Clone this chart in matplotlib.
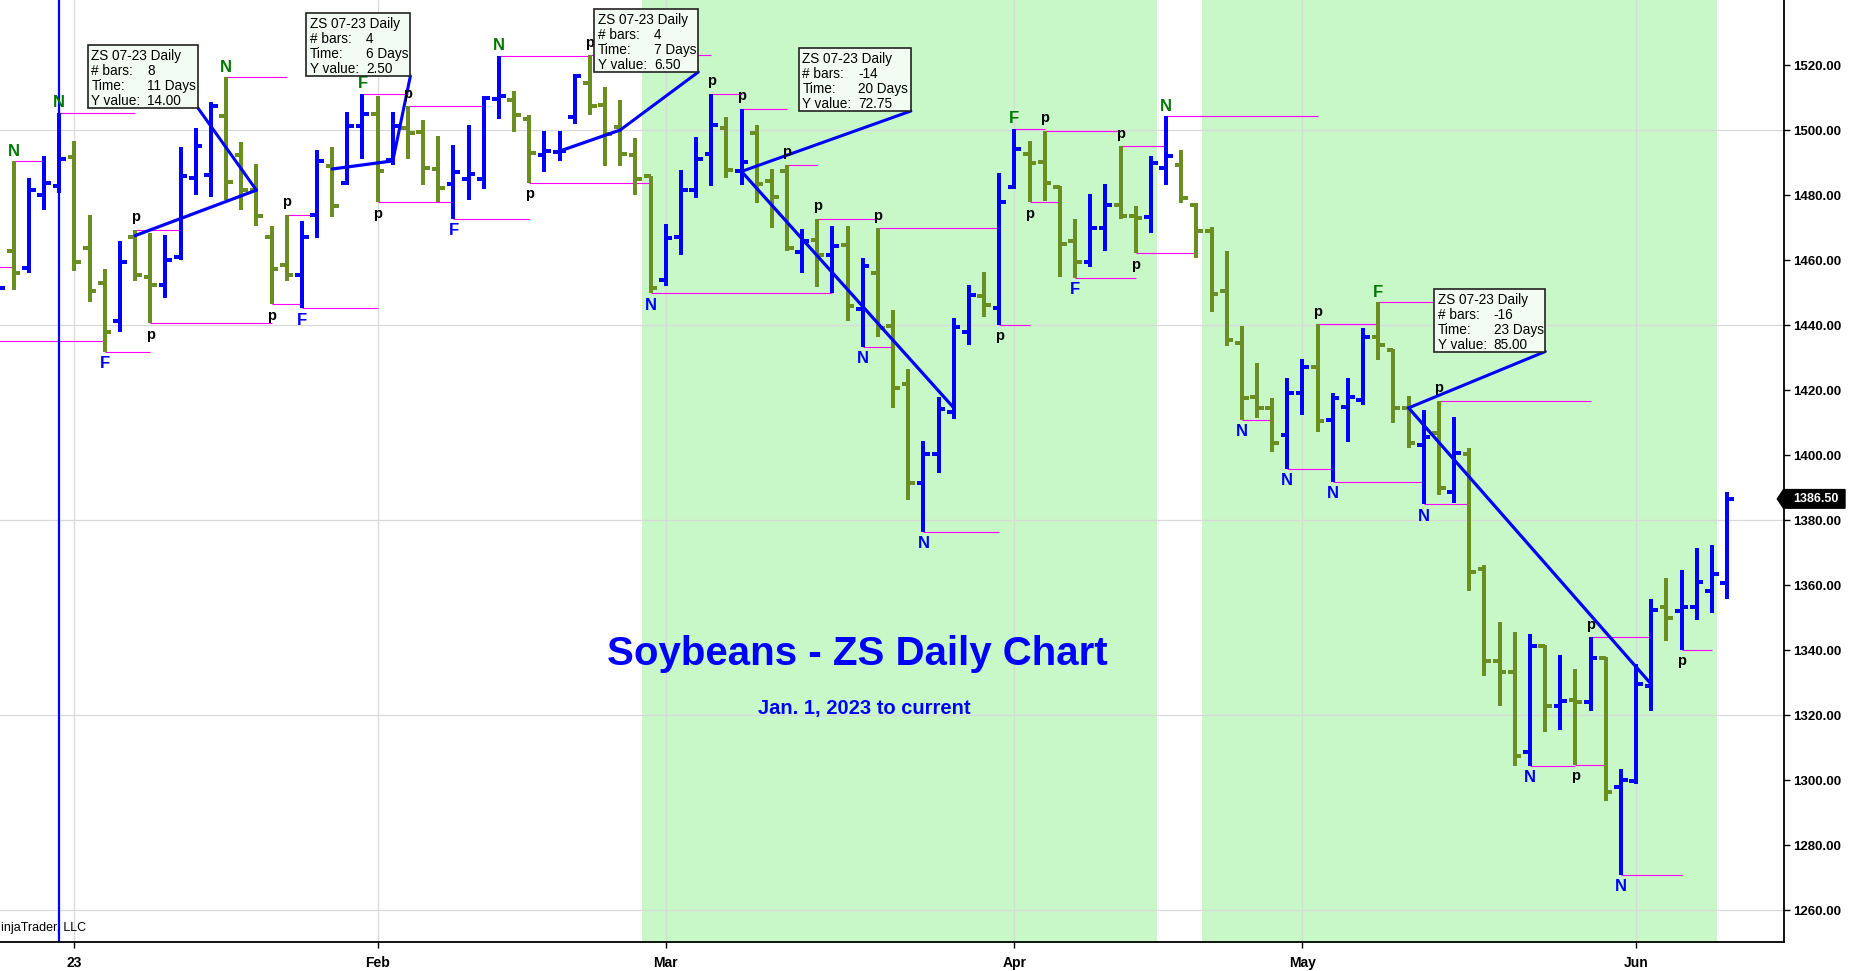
import matplotlib
matplotlib.use('Agg')
import matplotlib.pyplot as plt
import matplotlib.transforms as mtransforms
from matplotlib.collections import LineCollection
from matplotlib.patches import Rectangle, Polygon

plt.rcParams['font.family'] = ['Liberation Sans', 'DejaVu Sans']

# daily OHLC bars, bar index 0 = first session of 2023
first_bar = -5
opens = [1440.0, 1462.9, 1457.5, 1480.1, 1482.7,
         1491.6, 1463.7, 1452.9, 1441.3, 1467.2, 1454.9, 1452.2, 1460.9, 1485.2, 1486.1,
         1504.2, 1492.2, 1481.6, 1467.2, 1458.5, 1455.4, 1473.7, 1489.0, 1483.7, 1501.1,
         1504.8, 1490.9, 1500.5, 1499.3, 1488.1, 1483.4, 1485.0, 1485.0, 1509.5, 1509.1,
         1503.5, 1492.4, 1493.3, 1503.9, 1514.5, 1507.8, 1501.0, 1492.2, 1485.7, 1453.9,
         1467.0, 1481.6, 1492.7, 1500.6, 1487.3, 1499.0, 1484.4, 1487.3, 1462.6, 1466.2,
         1461.6, 1464.7, 1445.0, 1456.0, 1439.7, 1421.7, 1391.3, 1400.3, 1413.3, 1437.7,
         1448.9, 1445.3, 1482.4, 1492.6, 1490.2, 1482.6, 1465.7, 1459.5, 1470.0, 1476.8,
         1473.4, 1473.1, 1488.3, 1489.3, 1477.0, 1468.8, 1450.5, 1434.6, 1417.9, 1414.6,
         1406.2, 1419.0, 1427.0, 1410.8, 1414.8, 1416.9, 1436.4, 1432.3, 1414.4, 1403.1,
         1406.7, 1388.7, 1400.2, 1364.9, 1336.5, 1333.3, 1308.5, 1341.3, 1322.7, 1324.5,
         1323.9, 1337.5, 1297.9, 1299.8, 1329.0, 1353.3, 1352.1, 1353.3, 1358.1, 1360.5]
highs = [1456.5, 1490.4, 1485.2, 1491.9, 1505.3,
         1496.5, 1473.9, 1457.3, 1465.7, 1469.3, 1468.3, 1467.6, 1494.7, 1500.6, 1508.6,
         1516.3, 1496.3, 1489.5, 1470.6, 1473.9, 1472.1, 1493.8, 1494.8, 1505.6, 1511.2,
         1510.4, 1505.6, 1507.3, 1503.0, 1498.1, 1495.5, 1501.5, 1510.6, 1522.9, 1512.1,
         1504.5, 1499.8, 1499.8, 1517.3, 1523.0, 1513.2, 1509.1, 1497.6, 1486.0, 1471.1,
         1487.6, 1497.8, 1511.2, 1504.0, 1506.6, 1501.5, 1488.1, 1489.3, 1469.6, 1472.7,
         1470.6, 1470.6, 1460.6, 1469.8, 1444.5, 1426.4, 1404.3, 1418.0, 1442.1, 1452.3,
         1456.3, 1486.8, 1500.4, 1496.5, 1499.8, 1482.9, 1472.6, 1480.3, 1483.4, 1495.0,
         1476.5, 1491.9, 1504.2, 1494.0, 1477.5, 1470.3, 1462.9, 1439.8, 1428.4, 1417.4,
         1423.6, 1429.4, 1440.2, 1419.0, 1423.6, 1439.0, 1447.0, 1432.6, 1418.2, 1413.8,
         1416.7, 1411.6, 1402.3, 1366.3, 1348.5, 1345.4, 1344.9, 1341.6, 1338.5, 1334.2,
         1343.9, 1337.7, 1303.4, 1335.7, 1355.7, 1362.1, 1364.6, 1371.4, 1372.3, 1388.7]
lows = [1437.0, 1450.8, 1456.0, 1475.5, 1480.6,
        1456.5, 1447.2, 1431.8, 1438.0, 1453.4, 1440.5, 1448.2, 1459.9, 1479.9, 1479.3,
        1478.6, 1475.5, 1470.5, 1446.4, 1453.6, 1445.2, 1466.7, 1473.1, 1483.0, 1491.2,
        1477.8, 1489.3, 1491.2, 1483.2, 1477.8, 1472.7, 1478.6, 1482.0, 1503.5, 1499.3,
        1483.7, 1487.1, 1490.6, 1501.7, 1504.7, 1488.8, 1488.8, 1480.1, 1449.8, 1452.1,
        1461.4, 1479.1, 1482.7, 1485.2, 1483.0, 1477.5, 1469.8, 1462.8, 1456.0, 1451.8,
        1449.8, 1441.3, 1433.3, 1436.2, 1414.4, 1386.2, 1376.4, 1394.4, 1411.0, 1433.8,
        1442.6, 1440.0, 1481.9, 1477.8, 1478.3, 1454.9, 1454.6, 1458.0, 1462.8, 1472.7,
        1462.1, 1468.3, 1483.0, 1477.5, 1460.6, 1444.1, 1433.5, 1410.8, 1411.3, 1401.0,
        1395.7, 1412.3, 1407.2, 1391.8, 1404.1, 1415.4, 1429.2, 1409.7, 1402.1, 1384.9,
        1387.6, 1385.3, 1358.3, 1332.1, 1322.7, 1304.2, 1304.4, 1314.9, 1315.5, 1304.7,
        1321.3, 1293.6, 1270.8, 1298.8, 1321.3, 1342.9, 1340.1, 1349.3, 1351.4, 1355.7]
closes = [1451.3, 1456.0, 1481.4, 1483.7, 1491.2,
          1459.5, 1450.5, 1438.0, 1459.5, 1455.4, 1452.2, 1460.1, 1485.7, 1495.0, 1507.3,
          1484.0, 1481.6, 1473.4, 1457.3, 1455.4, 1467.0, 1490.6, 1476.7, 1501.1, 1505.0,
          1487.5, 1501.1, 1499.0, 1488.3, 1482.1, 1487.1, 1486.5, 1509.9, 1510.5, 1504.7,
          1493.0, 1493.6, 1493.6, 1516.6, 1507.3, 1498.8, 1492.5, 1484.9, 1451.3, 1466.7,
          1481.6, 1491.2, 1501.5, 1487.8, 1490.2, 1483.4, 1479.4, 1463.7, 1465.9, 1461.6,
          1464.2, 1446.0, 1458.3, 1439.2, 1420.5, 1391.3, 1400.3, 1414.1, 1439.5, 1449.2,
          1446.3, 1478.0, 1494.3, 1490.0, 1483.7, 1464.9, 1459.5, 1469.8, 1476.8, 1473.4,
          1472.9, 1489.9, 1491.9, 1479.1, 1468.8, 1449.5, 1435.5, 1417.4, 1414.6, 1403.6,
          1419.0, 1427.2, 1410.6, 1417.4, 1417.7, 1436.4, 1433.8, 1414.4, 1403.6, 1405.6,
          1389.7, 1400.6, 1364.1, 1336.7, 1333.3, 1307.3, 1341.3, 1322.7, 1324.4, 1324.0,
          1337.4, 1296.4, 1300.1, 1329.5, 1352.4, 1349.8, 1353.3, 1360.8, 1363.4, 1386.5]

month_ticks = [0, 20, 39, 62, 81, 103]
month_labels = ['23', 'Feb', 'Mar', 'Apr', 'May', 'Jun']
session_line = -1
shade_spans = [(37.43, 71.42), (74.35, 108.32)]

# swing markers: bar, side, label, bar where the level line stops
piv_bar = [-4, -1, 2, 4, 5, 10, 13, 14, 15, 19, 20, 22, 25, 28, 30, 34, 38, 42, 44,
           47, 49, 52, 53, 56, 61, 62, 63, 64, 66, 69, 70, 72, 77, 80, 82, 83, 86,
           89, 90, 96, 99, 100, 102, 106]
piv_side = ['hi', 'hi', 'lo', 'hi', 'lo', 'hi', 'lo', 'hi', 'lo', 'hi', 'lo', 'hi',
            'lo', 'hi', 'lo', 'hi', 'lo', 'hi', 'hi', 'hi', 'hi', 'lo', 'hi', 'lo',
            'lo', 'hi', 'lo', 'hi', 'lo', 'hi', 'lo', 'hi', 'lo', 'lo', 'hi', 'lo',
            'hi', 'lo', 'hi', 'lo', 'lo', 'hi', 'lo', 'lo']
piv_text = ['N', 'N', 'F', 'p', 'p', 'N', 'p', 'p', 'F', 'F', 'p', 'p', 'F', 'N',
            'p', 'p', 'N', 'p', 'p', 'p', 'p', 'N', 'p', 'N', 'p', 'F', 'p', 'p',
            'F', 'p', 'p', 'N', 'N', 'N', 'p', 'N', 'F', 'N', 'p', 'N', 'p', 'p',
            'N', 'p']
piv_end = [-2, 4, 5, 7, 13, 14, 15, 16, 20, 22, 25, 27, 30, 34, 38, 42, 50, 44, 47,
           49, 53, 54, 61, 61, 63, 64, 65, 69, 70, 72, 74, 82, 79, 83, 86, 89, 89.7,
           92, 100, 99, 101, 104, 106, 108]
carry_start = [-6, -6]
carry_end = [-4, 2]
carry_level = [1458.0, 1435.2]

# measuring tool readings
m_start = [4, 17, 32, 58, 104]
m_end = [12, 21, 36, 44, 88]
m_y0 = [1467.5, 1488.0, 1493.5, 1414.5, 1329.5]
m_y1 = [1481.5, 1490.5, 1500.0, 1487.25, 1414.5]
m_days = [11, 6, 7, 20, 23]
box_x = [0.88, 15.3, 34.29, 47.78, 89.69]
box_top = [1526.1, 1535.9, 1537.1, 1525.1, 1451.1]
box_wpx = [110, 104, 104, 112, 111]

BLUE = '#0000ff'
OLIVE = '#6b8e23'
XMIN, XMAX = -4.91, 112.78
YMIN, YMAX = 1250.25, 1540.0
AX_W, AX_H = 1784.3, 941.7
PX_X = (XMAX - XMIN) / AX_W
PX_Y = (YMAX - YMIN) / AX_H

fig = plt.figure(figsize=(18.5, 9.71), dpi=100)
ax = fig.add_axes([0, 1 - AX_H / 971, AX_W / 1850, AX_H / 971])
ax.set_xlim(XMIN, XMAX)
ax.set_ylim(YMIN, YMAX)

for a, b in shade_spans:
    ax.axvspan(a, b, color='#c8f7c8', lw=0, zorder=0)
for m in month_ticks:
    ax.axvline(m, color='#d9d9d9', lw=0.9, zorder=0.5)
for g in range(1260, 1501, 60):
    ax.axhline(g, color='#d9d9d9', lw=0.9, zorder=0.5)
ax.axvline(session_line, color=BLUE, lw=1.6, zorder=2.5)

ax.text(1 / AX_W, 11 / AX_H, 'injaTrader, LLC', transform=ax.transAxes,
        ha='left', va='baseline', fontsize=9, zorder=1)

# level lines
segs = []
for s, e, lv in zip(carry_start, carry_end, carry_level):
    segs.append([(s, lv), (e, lv)])
for b, side, e in zip(piv_bar, piv_side, piv_end):
    k = b - first_bar
    lv = highs[k] if side == 'hi' else lows[k]
    segs.append([(b, lv), (e, lv)])
ax.add_collection(LineCollection(segs, colors='#ff00ff', linewidths=0.8, zorder=1.5))

# OHLC bars
bsegs, bcols = [], []
for k in range(len(opens)):
    i = first_bar + k
    col = BLUE if closes[k] >= opens[k] else OLIVE
    bsegs += [[(i, lows[k]), (i, highs[k])],
              [(i - 0.44, opens[k]), (i, opens[k])],
              [(i, closes[k]), (i + 0.44, closes[k])]]
    bcols += [col] * 3
ax.add_collection(LineCollection(bsegs, colors=bcols, linewidths=2.7,
                                 capstyle='butt', antialiaseds=False, zorder=2))

# swing labels
for b, side, t in zip(piv_bar, piv_side, piv_text):
    k = b - first_bar
    if t == 'p':
        col, fs = 'black', 10.5
    else:
        col, fs = ('#007a00' if side == 'hi' else BLUE), 12
    if side == 'hi':
        off = 6 if t == 'p' else 3.8
        ax.annotate(t, (b, highs[k]), xytext=(0, off), textcoords='offset points',
                    ha='center', va='baseline', color=col, fontweight='bold',
                    fontsize=fs, zorder=4)
    else:
        ax.annotate(t, (b, lows[k]), xytext=(0, -3.2), textcoords='offset points',
                    ha='center', va='top', color=col, fontweight='bold',
                    fontsize=fs, zorder=4)

# measure lines and their info boxes
for s, e, y0, y1, d, bx, bt, bw in zip(m_start, m_end, m_y0, m_y1, m_days,
                                         box_x, box_top, box_wpx):
    w = bw * PX_X
    h = 62.6 * PX_Y
    ax.plot([s, e], [y0, y1], color=BLUE, lw=2.3, solid_capstyle='round', zorder=3)
    ax.plot([e, bx + w], [y1, bt - h], color=BLUE, lw=2.2, solid_capstyle='round',
            zorder=3)
    ax.add_patch(Rectangle((bx, bt - h), w, h, facecolor='#f3fcf3', edgecolor='#222222',
                           lw=1.2, zorder=6, clip_on=False))
    rows = ['ZS 07-23 Daily', '# bars:', 'Time:', 'Y value:']
    vals = ['', f'{e - s}', f'{d} Days', f'{y1 - y0:.2f}']
    for r, (lab, val) in enumerate(zip(rows, vals)):
        yy = bt - (11 + 15 * r) * PX_Y
        ax.text(bx + 3.5 * PX_X, yy, lab, ha='left', va='center', fontsize=9.8,
                zorder=7)
        if val:
            ax.text(bx + 59.5 * PX_X, yy, val, ha='left', va='center', fontsize=9.8,
                    zorder=7)

ax.text(857 / AX_W, (AX_H - 665) / AX_H, 'Soybeans - ZS Daily Chart',
        transform=ax.transAxes, ha='center', va='baseline', fontsize=29,
        fontweight='bold', color=BLUE, zorder=5)
ax.text(864 / AX_W, (AX_H - 714) / AX_H, 'Jan. 1, 2023 to current',
        transform=ax.transAxes, ha='center', va='baseline', fontsize=14.5,
        fontweight='bold', color=BLUE, zorder=5)

# axes styling
for sp in ['top', 'left']:
    ax.spines[sp].set_visible(False)
for sp in ['bottom', 'right']:
    ax.spines[sp].set_linewidth(1.3)
ax.yaxis.tick_right()
yt = list(range(1260, 1521, 20))
ax.set_yticks(yt)
ax.set_yticklabels([f'{v:.2f}' for v in yt], fontweight='bold')
ax.set_xticks(month_ticks)
ax.set_xticklabels(month_labels, fontweight='bold')
ax.tick_params(axis='y', direction='out', length=4, width=1, pad=2.5, labelsize=9.5)
ax.tick_params(axis='x', direction='out', length=4, width=1, pad=6, labelsize=10)

# last price marker on the price axis
last_price = closes[-1]
bt_ = mtransforms.blended_transform_factory(fig.transFigure, ax.transData)
hh = 9.3 * PX_Y
ax.add_patch(Polygon([(1777.3 / 1850, last_price), (1783.5 / 1850, last_price + hh),
                      (1845 / 1850, last_price + hh), (1845 / 1850, last_price - hh),
                      (1783.5 / 1850, last_price - hh)], closed=True,
                     facecolor='black', edgecolor='black', transform=bt_,
                     clip_on=False, zorder=10))
ax.text(1793 / 1850, last_price, f'{last_price:.2f}', transform=bt_, color='white',
        fontweight='bold', fontsize=9, va='center', ha='left', clip_on=False, zorder=11)

fig.savefig('out.png', dpi=100)
